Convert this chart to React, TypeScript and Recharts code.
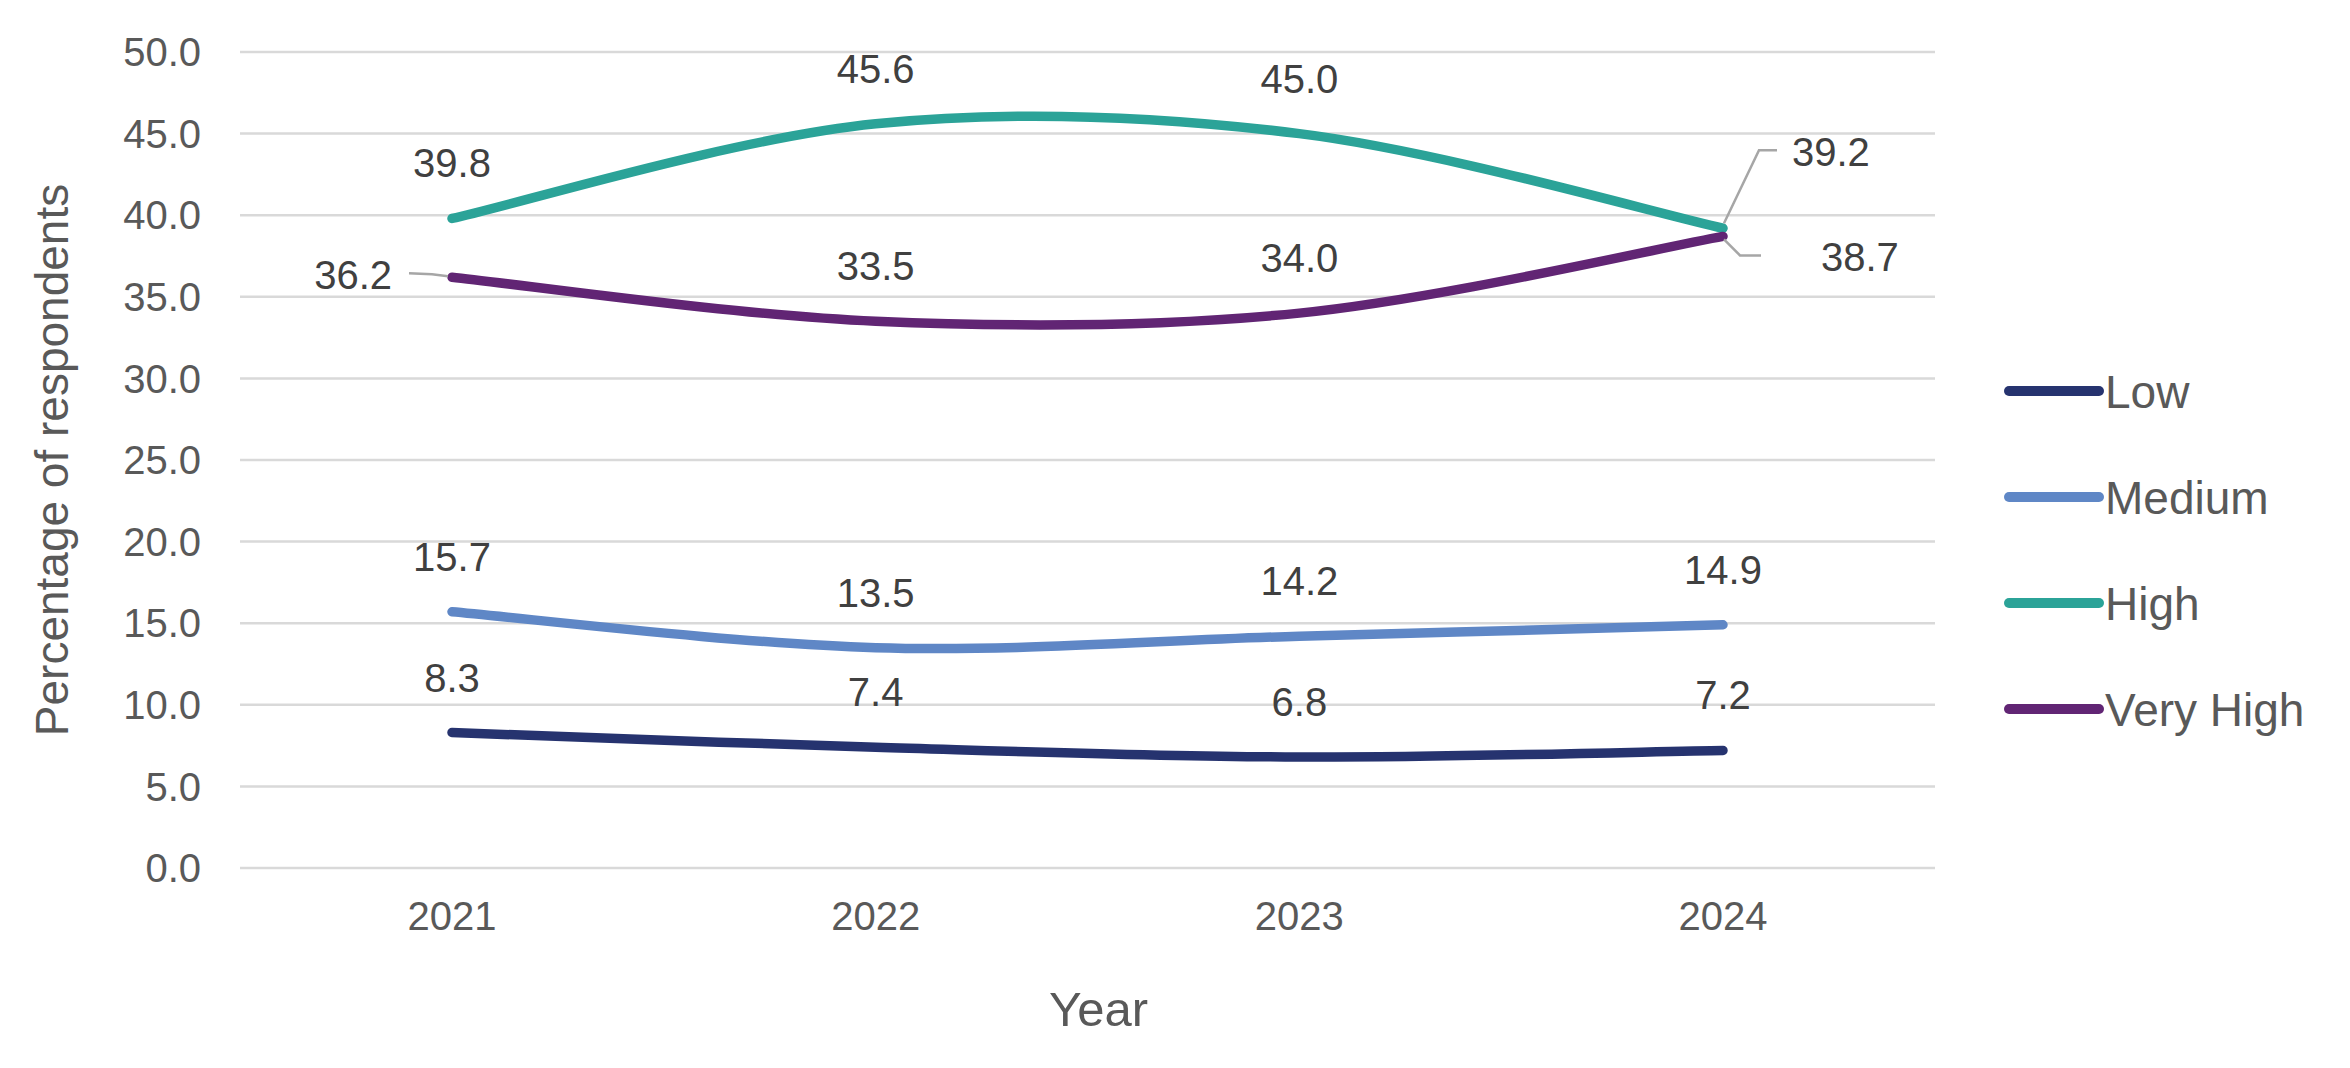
import React from 'react';
import { LineChart, Line, XAxis, YAxis, CartesianGrid, Legend, LabelList } from 'recharts';

const YEARS = ['2021', '2022', '2023', '2024'];
const LOW = [8.3, 7.4, 6.8, 7.2];
const MEDIUM = [15.7, 13.5, 14.2, 14.9];
const HIGH = [39.8, 45.6, 45.0, 39.2];
const VERY_HIGH = [36.2, 33.5, 34.0, 38.7];
const Y_TICKS = [0, 5, 10, 15, 20, 25, 30, 35, 40, 45, 50];

const SERIES = [
  { name: 'Low', values: LOW, color: '#26336F' },
  { name: 'Medium', values: MEDIUM, color: '#5F87C6' },
  { name: 'High', values: HIGH, color: '#2BA398' },
  { name: 'Very High', values: VERY_HIGH, color: '#612574' },
];
const SERIES_ORDER = SERIES.map((s) => s.name);

const data = YEARS.map((year, i) => {
  const row: any = { year };
  SERIES.forEach((s) => {
    row[s.name] = s.values[i];
  });
  return row;
});

const FONT = '"Liberation Sans", Arial, Helvetica, sans-serif';
const AXIS_TEXT = '#595959';
const LABEL_TEXT = '#404040';
const LEADER = '#A6A6A6';

// Excel-like smoothed line (Catmull-Rom style Bezier, k = 1/6)
const excelCurve: any = (context: any) => {
  let pts: number[][] = [];
  return {
    areaStart() {},
    areaEnd() {},
    lineStart() {
      pts = [];
    },
    point(x: number, y: number) {
      pts.push([+x, +y]);
    },
    lineEnd() {
      if (!pts.length) return;
      context.moveTo(pts[0][0], pts[0][1]);
      for (let i = 0; i < pts.length - 1; i++) {
        const p0 = pts[i - 1] || pts[i];
        const p1 = pts[i];
        const p2 = pts[i + 1];
        const p3 = pts[i + 2] || p2;
        context.bezierCurveTo(
          p1[0] + (p2[0] - p0[0]) / 6,
          p1[1] + (p2[1] - p0[1]) / 6,
          p2[0] - (p3[0] - p1[0]) / 6,
          p2[1] - (p3[1] - p1[1]) / 6,
          p2[0],
          p2[1]
        );
      }
    },
  };
};

// label placement styles with leader lines (relative to the point)
const LEADERS: Record<string, Record<number, any>> = {
  High: {
    3: { path: [[1, -5], [36, -78], [54, -78]], tx: 69, ty: -62, anchor: 'start' },
  },
  'Very High': {
    0: { path: [[-43, -4], [-20, -3], [-4, -1]], tx: -60, ty: 12, anchor: 'end' },
    3: { path: [[1, 3], [17, 19], [38, 19]], tx: 98, ty: 35, anchor: 'start' },
  },
};

const makeLabel = (series: string) => (props: any) => {
  const x = props.x ?? props.viewBox?.x;
  const y = props.y ?? props.viewBox?.y;
  const index = props.index;
  if (x == null || y == null) return null;
  const text = Number(props.value).toFixed(1);
  const special = LEADERS[series] && LEADERS[series][index];
  if (special) {
    const d = special.path
      .map((p: number[], i: number) => `${i === 0 ? 'M' : 'L'}${x + p[0]},${y + p[1]}`)
      .join(' ');
    return (
      <g>
        <path d={d} stroke={LEADER} strokeWidth={2.5} fill="none" />
        <text
          x={x + special.tx}
          y={y + special.ty}
          textAnchor={special.anchor}
          fontSize={40}
          fontFamily={FONT}
          fill={LABEL_TEXT}
        >
          {text}
        </text>
      </g>
    );
  }
  return (
    <text x={x} y={y - 41} textAnchor="middle" fontSize={40} fontFamily={FONT} fill={LABEL_TEXT}>
      {text}
    </text>
  );
};

const renderLegend = (props: any) => {
  const payload = [...(props.payload || [])].sort(
    (a: any, b: any) => SERIES_ORDER.indexOf(a.value) - SERIES_ORDER.indexOf(b.value)
  );
  return (
    <svg width={330} height={400} style={{ display: 'block' }}>
      {payload.map((e: any, i: number) => {
        const cy = 51 + i * 106;
        return (
          <g key={i}>
            <line x1={12} x2={102} y1={cy} y2={cy} stroke={e.color} strokeWidth={10} strokeLinecap="round" />
            <text x={108} y={cy + 16.5} fontSize={46} fill={AXIS_TEXT} fontFamily={FONT}>
              {e.value}
            </text>
          </g>
        );
      })}
    </svg>
  );
};

const YTitle = (props: any) => {
  const vb = props.viewBox || {};
  const cy = (vb.y ?? 52) + (vb.height ?? 816) / 2;
  const cx = 52;
  return (
    <text
      x={cx}
      y={cy}
      dy="0.355em"
      transform={`rotate(-90, ${cx}, ${cy})`}
      textAnchor="middle"
      fontSize={46}
      fontFamily={FONT}
      fill={AXIS_TEXT}
    >
      Percentage of respondents
    </text>
  );
};

const XTitle = (props: any) => {
  const vb = props.viewBox || {};
  const cx = (vb.x ?? 240) + (vb.width ?? 1695) / 2 + 11;
  return (
    <text x={cx} y={1026} textAnchor="middle" fontSize={49} fontFamily={FONT} fill={AXIS_TEXT}>
      Year
    </text>
  );
};

export default function App() {
  return (
    <div
      style={{
        position: 'absolute',
        left: 0,
        top: 0,
        width: 2350,
        height: 1068,
        background: '#ffffff',
        fontFamily: FONT,
      }}
    >
      <LineChart width={2350} height={1068} data={data} margin={{ top: 52, right: 85, bottom: 60, left: 60 }}>
        <CartesianGrid vertical={false} stroke="#D9D9D9" strokeWidth={2.5} />
        <XAxis
          dataKey="year"
          axisLine={false}
          tickLine={false}
          tickSize={0}
          tickMargin={34}
          height={140}
          padding={{ left: 212, right: 212 }}
          tick={{ fill: AXIS_TEXT, fontSize: 40, fontFamily: FONT }}
          label={{ content: XTitle }}
        />
        <YAxis
          domain={[0, 50]}
          ticks={Y_TICKS}
          interval={0}
          width={180}
          axisLine={false}
          tickLine={false}
          tickSize={0}
          tickMargin={39}
          tickFormatter={(v: number) => v.toFixed(1)}
          tick={{ fill: AXIS_TEXT, fontSize: 40, fontFamily: FONT }}
          label={{ content: YTitle }}
        />
        <Legend
          layout="vertical"
          align="right"
          verticalAlign="middle"
          content={renderLegend}
          wrapperStyle={{ left: 1997, top: 340, width: 330, height: 400 }}
        />
        {SERIES.map((s) => (
          <Line
            key={s.name}
            name={s.name}
            dataKey={s.name}
            type={excelCurve}
            stroke={s.color}
            strokeWidth={9.5}
            strokeLinecap="round"
            dot={false}
            activeDot={false}
            isAnimationActive={false}
          >
            <LabelList dataKey={s.name} content={makeLabel(s.name)} />
          </Line>
        ))}
      </LineChart>
    </div>
  );
}
